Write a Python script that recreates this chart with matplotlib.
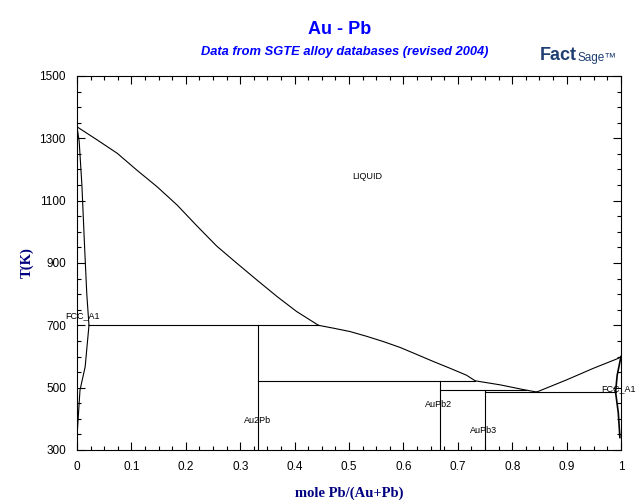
# Au-Pb phase diagram (FactSage style)
import matplotlib.pyplot as plt
from matplotlib.ticker import MultipleLocator

plt.rcParams['font.family'] = ['Liberation Sans', 'DejaVu Sans']

# liquidus, Au side down to Au2Pb peritectic
liq_au_x = [0.0, 0.037, 0.074, 0.110, 0.147, 0.184, 0.221, 0.257, 0.294, 0.331, 0.368, 0.404, 0.444]
liq_au_T = [1337, 1295, 1252, 1198, 1145, 1086, 1018, 954, 899, 845, 792, 744, 700]
# liquidus from Au2Pb peritectic to the eutectic
liq_mid_x = [0.444, 0.471, 0.502, 0.532, 0.563, 0.594, 0.624, 0.655, 0.686, 0.716, 0.732, 0.778, 0.820, 0.845]
liq_mid_T = [700, 691, 680, 665, 648, 629, 607, 584, 562, 540, 522, 509, 494, 486]
# liquidus, Pb side
liq_pb_x = [0.845, 0.900, 0.949, 0.995, 1.0]
liq_pb_T = [486, 525, 562, 594, 600]

# fcc (Au) solidus and solvus
sol_au_x = [0.0, 0.004, 0.009, 0.014, 0.018, 0.022]
sol_au_T = [1337, 1290, 1150, 950, 800, 700]
solv_au_x = [0.022, 0.015, 0.0055, 0.001]
solv_au_T = [700, 567, 492, 370]
# fcc (Pb) solidus and solvus
sol_pb_x = [1.0, 0.993, 0.990]
sol_pb_T = [600, 540, 486]
solv_pb_x = [0.990, 0.995, 0.998]
solv_pb_T = [486, 420, 340]

# invariant lines (x start, x end, T)
inv_lines = [(0.022, 0.444, 700), (0.3333, 0.732, 522), (0.6667, 0.825, 491), (0.75, 0.990, 486)]
# compounds (x, T of peritectic)
compounds = [(1 / 3, 700), (2 / 3, 522), (0.75, 491)]

labels = ["LIQUID", "FCC_A1", "Au2Pb", "AuPb2", "AuPb3", "FCC_A1"]
label_x = [0.533, -0.022, 0.331, 0.665, 0.748, 0.996]
label_T = [1179, 730, 396, 447, 364, 496]
label_ha = ["center", "left", "center", "center", "center", "center"]

fig = plt.figure(figsize=(6.4, 5.04), dpi=100)
ax = fig.add_axes([77 / 640, 54 / 504, 544 / 640, 374 / 504])

lw = 0.8
ax.plot(liq_au_x, liq_au_T, color='black', lw=lw)
ax.plot(liq_mid_x, liq_mid_T, color='black', lw=lw)
ax.plot(liq_pb_x, liq_pb_T, color='black', lw=lw)
ax.plot(sol_au_x, sol_au_T, color='black', lw=lw)
ax.plot(solv_au_x, solv_au_T, color='black', lw=lw)
ax.plot(sol_pb_x, sol_pb_T, color='black', lw=lw * 1.5)
ax.plot(solv_pb_x, solv_pb_T, color='black', lw=lw * 1.5)

for x0, x1, T in inv_lines:
    ax.plot([x0, x1], [T, T], color='black', lw=lw)
for x, T in compounds:
    ax.plot([x, x], [300, T], color='black', lw=lw)

for s, x, T, ha in zip(labels, label_x, label_T, label_ha):
    ax.text(x, T, s, fontsize=6.5, ha=ha, va='center', clip_on=False)

ax.set_xlim(0, 1)
ax.set_ylim(300, 1500)
ax.xaxis.set_minor_locator(MultipleLocator(0.025))
ax.yaxis.set_minor_locator(MultipleLocator(50))
ax.set_xticks([i / 10 for i in range(11)])
ax.set_xticklabels(['0', '0.1', '0.2', '0.3', '0.4', '0.5', '0.6', '0.7', '0.8', '0.9', '1'])
ax.set_yticks([300, 500, 700, 900, 1100, 1300, 1500])
ax.tick_params(which='both', direction='in', top=True, right=True, labelsize=8.5, width=0.8)
ax.tick_params(which='major', length=6)
ax.tick_params(axis='x', which='major', pad=8)
ax.tick_params(axis='y', which='major', pad=8)
ax.tick_params(which='minor', length=3)
for sp in ax.spines.values():
    sp.set_linewidth(0.8)

ax.set_xlabel('mole Pb/(Au+Pb)', family='Liberation Serif', fontweight='bold',
              fontsize=10.5, color='#000080', labelpad=10)
ax.set_ylabel('T(K)', family='Liberation Serif', fontweight='bold',
              fontsize=10.5, color='#000080', labelpad=4)

fig.text(340 / 640, 1 - 30 / 504, 'Au - Pb', ha='center', va='center',
         fontsize=13, fontweight='bold', color='#0000ff')
fig.text(345 / 640, 1 - 52 / 504, 'Data from SGTE alloy databases (revised 2004)',
         ha='center', va='center', fontsize=9.3, fontweight='bold', style='italic', color='#0000ff')

# FactSage logo as text
fig.text(540 / 640, 1 - 55 / 504, 'Fact', ha='left', va='center', fontsize=13,
         fontweight='bold', color='#1f3f73')
fig.text(577 / 640, 1 - 58 / 504, 'Sage\u2122', ha='left', va='center', fontsize=8.5,
         color='#1f3f73')

fig.savefig('out.png', dpi=100)
